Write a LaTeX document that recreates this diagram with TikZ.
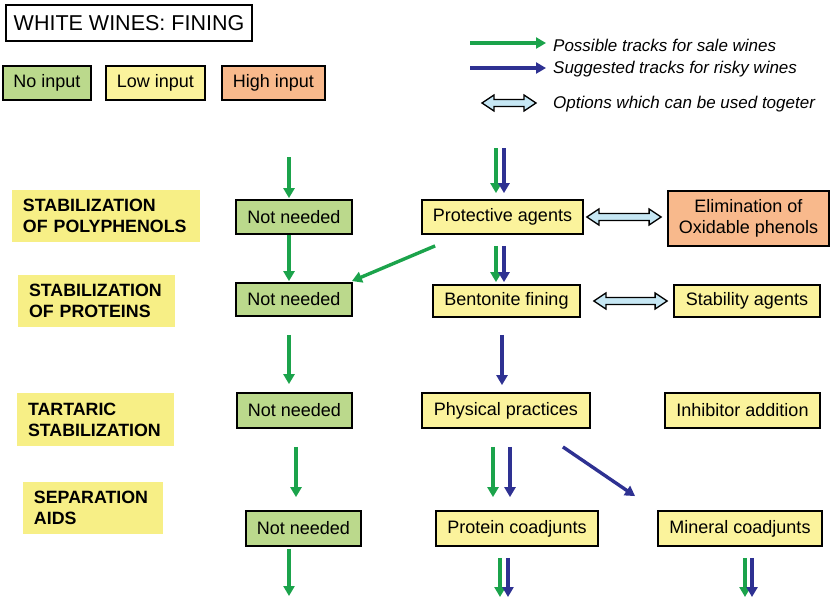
\documentclass[tikz,border=0pt]{standalone}
\usepackage{fontspec}
\setmainfont{Liberation Sans}
\usetikzlibrary{arrows.meta,calc}
\definecolor{gfill}{HTML}{BBD98C}
\definecolor{yfill}{HTML}{FBF39C}
\definecolor{ofill}{HTML}{F8B98C}
\definecolor{lfill}{HTML}{F7EF86}
\definecolor{garr}{HTML}{1BA34B}
\definecolor{barr}{HTML}{2E3192}
\definecolor{dfill}{HTML}{C6E7F4}
\begin{document}
\begin{tikzpicture}[x=1pt,y=-1pt,
 box/.style={draw=black, line width=1.8pt, inner sep=0pt, font=\fontsize{18}{21}\selectfont, align=center},
 nobox/.style={box, fill=gfill},
 lowbox/.style={box, fill=yfill},
 highbox/.style={box, fill=ofill},
 lbl/.style={fill=lfill, inner xsep=11pt, inner ysep=0pt, font=\bfseries\fontsize{17.8}{21}\selectfont, align=left},
 garrow/.style={draw=garr, line width=3.4pt, -{Triangle[width=11pt,length=10pt]}},
 barrow/.style={draw=barr, line width=3.4pt, -{Triangle[width=11pt,length=10pt]}},
 dbl/.style={draw=black, line width=1.3pt, fill=dfill, line join=miter},
 legtext/.style={font=\itshape\fontsize{17}{20}\selectfont, anchor=west, inner sep=0pt}
]
\useasboundingbox (0,0) rectangle (830,598);

% title and legend
\node[draw=black, line width=1.5pt, minimum width=246pt, minimum height=36pt, inner sep=0pt, font=\fontsize{21.5}{24}\selectfont] (title) at (129,23) {WHITE WINES: FINING};
\node[nobox, minimum width=88pt, minimum height=34pt] (lno) at (47,83) {No input};
\node[lowbox, minimum width=99pt, minimum height=34pt] (llow) at (155.5,83) {Low input};
\node[highbox, minimum width=103pt, minimum height=34pt] (lhigh) at (273.5,83) {High input};

\coordinate (lg1s) at (470,43); \coordinate (lg1e) at (546,43);
\coordinate (lg2s) at (470,68); \coordinate (lg2e) at (546,68);
\coordinate (lg3s) at (482,103); \coordinate (lg3e) at (536,103);
\draw[garrow] (lg1s) -- (lg1e);
\draw[barrow] (lg2s) -- (lg2e);
\path[dbl] let \p1=(lg3s), \p2=(lg3e) in
 (\x1,\y1) -- (\x1+12pt,\y1+8pt) -- (\x1+12pt,\y1+3.5pt) -- (\x2-12pt,\y1+3.5pt) -- (\x2-12pt,\y1+8pt) -- (\x2,\y1)
 -- (\x2-12pt,\y1-8pt) -- (\x2-12pt,\y1-3.5pt) -- (\x1+12pt,\y1-3.5pt) -- (\x1+12pt,\y1-8pt) -- cycle;
\node[legtext] (t1) at (553,45) {Possible tracks for sale wines};
\node[legtext] (t2) at (553,69) {Suggested tracks for risky wines};
\node[legtext] (t3) at (553,104) {Options which can be used togeter};

% row labels
\node[lbl, minimum width=188pt, minimum height=52pt, text width=166pt] (r1) at (106,216) {STABILIZATION\\OF POLYPHENOLS};
\node[lbl, minimum width=157pt, minimum height=52pt, text width=135pt] (r2) at (96.5,301) {STABILIZATION\\OF PROTEINS};
\node[lbl, minimum width=157pt, minimum height=53pt, text width=135pt] (r3) at (95.5,419.5) {TARTARIC\\STABILIZATION};
\node[lbl, minimum width=140pt, minimum height=52pt, text width=118pt] (r4) at (93,508) {SEPARATION\\AIDS};

% column 1
\node[nobox, minimum width=116pt, minimum height=34pt] (nn1) at (294,217) {Not needed};
\node[nobox, minimum width=116pt, minimum height=33pt] (nn2) at (294,299.5) {Not needed};
\node[nobox, minimum width=115pt, minimum height=35pt] (nn3) at (294.5,410.5) {Not needed};
\node[nobox, minimum width=115pt, minimum height=35pt] (nn4) at (303.5,528.5) {Not needed};

% column 2
\node[lowbox, minimum width=161pt, minimum height=34pt] (pa) at (502.5,217) {Protective agents};
\node[lowbox, minimum width=147pt, minimum height=32pt] (bf) at (506.5,301) {Bentonite fining};
\node[lowbox, minimum width=168pt, minimum height=35pt] (pp) at (506,410.5) {Physical practices};
\node[lowbox, minimum width=162pt, minimum height=35pt] (pc) at (517,528.5) {Protein coadjunts};

% column 3
\node[highbox, minimum width=161pt, minimum height=55pt] (el) at (748.5,218.5) {Elimination of\\Oxidable phenols};
\node[lowbox, minimum width=146pt, minimum height=32pt] (sa) at (747,301) {Stability agents};
\node[lowbox, minimum width=155pt, minimum height=35pt] (ia) at (742.5,410.5) {Inhibitor addition};
\node[lowbox, minimum width=164pt, minimum height=35pt] (mc) at (740,528.5) {Mineral coadjunts};

% column x guides
\coordinate (x1) at (289,0);
\coordinate (x1b) at (296,0);
\coordinate (g2) at (496,0);
\coordinate (b2) at (504,0);
\coordinate (b2m) at (502,0);
\coordinate (g2p) at (493,0);
\coordinate (b2p) at (510,0);
\coordinate (g2c) at (500,0);
\coordinate (b2c) at (508,0);
\coordinate (g3) at (745,0);
\coordinate (b3) at (752,0);

% column 1 arrows
\coordinate (c1top) at (289,157);
\coordinate (c1bot) at (289,596);
\draw[garrow, shorten >=1pt] (c1top) -- (x1 |- nn1.north);
\draw[garrow, shorten >=1pt] (x1 |- nn1.south) -- (x1 |- nn2.north);
\draw[garrow, shorten <=18pt, shorten >=8pt] (x1 |- nn2.south) -- (x1 |- nn3.north);
\draw[garrow, shorten <=18pt, shorten >=13pt] (x1b |- nn3.south) -- (x1b |- nn4.north);
\draw[garrow, shorten <=2pt] (x1 |- nn4.south) -- (c1bot);

% column 2 arrows
\coordinate (c2top) at (500,148);
\coordinate (c2bot) at (500,597);
\coordinate (c3bot) at (748,597);
\draw[garrow, shorten >=6pt] (g2 |- c2top) -- (g2 |- pa.north);
\draw[barrow, shorten >=6pt] (b2 |- c2top) -- (b2 |- pa.north);
\draw[garrow, shorten <=11pt, shorten >=2pt] (g2 |- pa.south) -- (g2 |- bf.north);
\draw[barrow, shorten <=11pt, shorten >=2pt] (b2 |- pa.south) -- (b2 |- bf.north);
\draw[barrow, shorten <=17pt, shorten >=7pt] (b2m |- bf.south) -- (b2m |- pp.north);
\draw[garrow, shorten <=18pt, shorten >=13pt] (g2p |- pp.south) -- (g2p |- pc.north);
\draw[barrow, shorten <=18pt, shorten >=13pt] (b2p |- pp.south) -- (b2p |- pc.north);
\draw[garrow, shorten <=11pt] (g2c |- pc.south) -- (g2c |- c2bot);
\draw[barrow, shorten <=11pt] (b2c |- pc.south) -- (b2c |- c2bot);
\draw[garrow, shorten <=11pt] (g3 |- mc.south) -- (g3 |- c3bot);
\draw[barrow, shorten <=11pt] (b3 |- mc.south) -- (b3 |- c3bot);

% diagonals
\draw[garrow] ([xshift=14pt,yshift=-11pt]pa.south west) -- ([xshift=-1pt,yshift=1pt]nn2.north east);
\draw[barrow] ([xshift=-28pt,yshift=-18pt]pp.south east) -- ([xshift=-22pt,yshift=14pt]mc.north west);

% double arrows (options used together)
\path[dbl] let \p1=([xshift=3pt]pa.east), \p2=([xshift=-6pt]el.west) in
 (\x1,\y1) -- (\x1+12pt,\y1+8pt) -- (\x1+12pt,\y1+3.5pt) -- (\x2-12pt,\y1+3.5pt) -- (\x2-12pt,\y1+8pt) -- (\x2,\y1)
 -- (\x2-12pt,\y1-8pt) -- (\x2-12pt,\y1-3.5pt) -- (\x1+12pt,\y1-3.5pt) -- (\x1+12pt,\y1-8pt) -- cycle;
\path[dbl] let \p1=([xshift=13pt]bf.east), \p2=([xshift=-6pt]sa.west) in
 (\x1,\y1) -- (\x1+12pt,\y1+8pt) -- (\x1+12pt,\y1+3.5pt) -- (\x2-12pt,\y1+3.5pt) -- (\x2-12pt,\y1+8pt) -- (\x2,\y1)
 -- (\x2-12pt,\y1-8pt) -- (\x2-12pt,\y1-3.5pt) -- (\x1+12pt,\y1-3.5pt) -- (\x1+12pt,\y1-8pt) -- cycle;
\end{tikzpicture}
\end{document}
